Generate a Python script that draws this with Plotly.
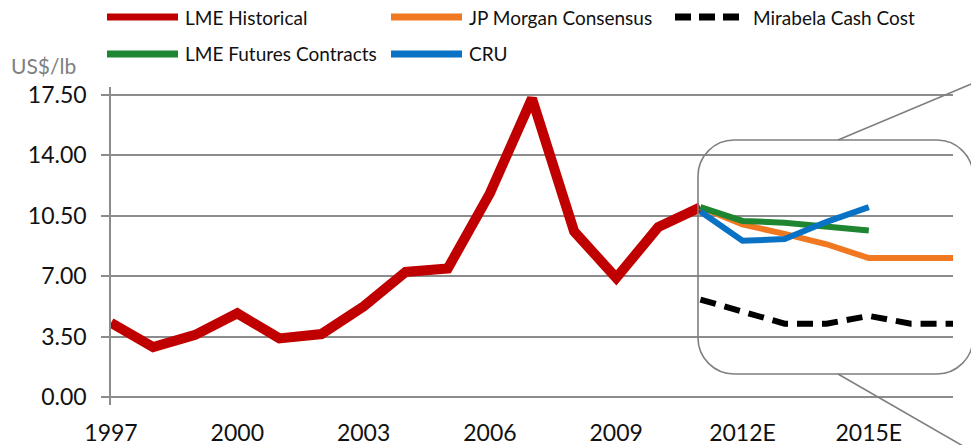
import plotly.graph_objects as go

# Nickel price history and forecasts (US$/lb)
years = ["1997", "1998", "1999", "2000", "2001", "2002", "2003", "2004", "2005",
         "2006", "2007", "2008", "2009", "2010", "2011",
         "2012E", "2013E", "2014E", "2015E", "2016E", "2017E"]

lme_historical = [4.30, 2.90, 3.60, 4.85, 3.40, 3.65, 5.25, 7.25, 7.45,
                  11.80, 17.30, 9.60, 6.90, 9.85, 11.00,
                  None, None, None, None, None, None]
jp_morgan = [None] * 14 + [11.00, 10.00, 9.45, 8.85, 8.05, 8.05, 8.05]
lme_futures = [None] * 14 + [11.00, 10.20, 10.10, 9.90, 9.65, None, None]
cru = [None] * 14 + [10.75, 9.05, 9.15, 10.15, 11.00, None, None]
cash_cost = [None] * 14 + [5.65, 4.95, 4.25, 4.25, 4.70, 4.25, 4.25]

series_names = ["LME Historical", "JP Morgan Consensus", "Mirabela Cash Cost",
                "LME Futures Contracts", "CRU"]

x_ticks = ["1997", "2000", "2003", "2006", "2009", "2012E", "2015E"]
y_ticks = [0, 3.5, 7, 10.5, 14, 17.5]

RED = "#C00000"
ORANGE = "#F07820"
GREEN = "#1E8530"
BLUE = "#0A72C4"
BLACK = "#000000"
GRID = "#8C8C8C"
FONT = "Lato"

W, H = 971, 445
L, R, T, B = 111, 18, 87, 40
PW, PH = W - L - R, H - T - B


def px(x):
    return (x - L) / PW


def py(y):
    return (H - B - y) / PH


fig = go.Figure()

fig.add_trace(go.Scatter(x=years, y=lme_historical, mode="lines",
                         line=dict(color=RED, width=10), name=series_names[0]))
fig.add_trace(go.Scatter(x=years, y=jp_morgan, mode="lines",
                         line=dict(color=ORANGE, width=6), name=series_names[1]))
fig.add_trace(go.Scatter(x=years, y=lme_futures, mode="lines",
                         line=dict(color=GREEN, width=6), name=series_names[3]))
fig.add_trace(go.Scatter(x=years, y=cru, mode="lines",
                         line=dict(color=BLUE, width=6), name=series_names[4]))
fig.add_trace(go.Scatter(x=years, y=cash_cost, mode="lines",
                         line=dict(color=BLACK, width=6, dash="16px,9px"),
                         name=series_names[2]))

shapes = []
annotations = []

# Legend drawn as line swatches plus labels, two rows
legend_items = [
    (series_names[0], RED, None, 107, 17),
    (series_names[1], ORANGE, None, 391, 17),
    (series_names[2], BLACK, "16px,8px", 675, 17),
    (series_names[3], GREEN, None, 107, 54),
    (series_names[4], BLUE, None, 391, 54),
]
for name, color, dash, x0, yc in legend_items:
    shapes.append(dict(type="line", xref="paper", yref="paper",
                       x0=px(x0), x1=px(x0 + 71), y0=py(yc), y1=py(yc),
                       line=dict(color=color, width=7, dash=dash)))
    annotations.append(dict(text=name, xref="paper", yref="paper",
                            x=px(x0 + 76), y=py(yc), xanchor="left", yanchor="middle",
                            showarrow=False, font=dict(family=FONT, size=19, color="#111111")))

# Axis unit label
annotations.append(dict(text="US$/lb", xref="paper", yref="paper",
                        x=px(9), y=py(66), xanchor="left", yanchor="middle",
                        showarrow=False, font=dict(family=FONT, size=21, color="#808080")))

# Rounded call-out box around the forecast period
bx0, by0, bx1, by1, rad = 698, 140, 973, 374, 36
k = 0.55 * rad
pts = [
    ("M", [(bx0 + rad, by0)]),
    ("L", [(bx1 - rad, by0)]),
    ("C", [(bx1 - rad + k, by0), (bx1, by0 + rad - k), (bx1, by0 + rad)]),
    ("L", [(bx1, by1 - rad)]),
    ("C", [(bx1, by1 - rad + k), (bx1 - rad + k, by1), (bx1 - rad, by1)]),
    ("L", [(bx0 + rad, by1)]),
    ("C", [(bx0 + rad - k, by1), (bx0, by1 - rad + k), (bx0, by1 - rad)]),
    ("L", [(bx0, by0 + rad)]),
    ("C", [(bx0, by0 + rad - k), (bx0 + rad - k, by0), (bx0 + rad, by0)]),
]
path = " ".join(cmd + " " + " ".join(f"{px(a):.5f},{py(b):.5f}" for a, b in p)
                for cmd, p in pts) + " Z"
shapes.append(dict(type="path", xref="paper", yref="paper", path=path,
                   line=dict(color="#7F7F7F", width=1.6), layer="above"))

# Leader lines from the call-out box
shapes.append(dict(type="line", xref="paper", yref="paper",
                   x0=px(838), y0=py(140), x1=px(975), y1=py(82.5),
                   line=dict(color="#7F7F7F", width=1.6)))
shapes.append(dict(type="line", xref="paper", yref="paper",
                   x0=px(838), y0=py(374), x1=px(963), y1=py(446),
                   line=dict(color="#7F7F7F", width=1.6)))

fig.update_layout(
    width=W, height=H,
    margin=dict(l=L, r=R, t=T, b=B, pad=0, autoexpand=False),
    paper_bgcolor="white", plot_bgcolor="white",
    showlegend=False,
    shapes=shapes, annotations=annotations,
    font=dict(family=FONT, color="#111111"),
    xaxis=dict(type="category", categoryorder="array", categoryarray=years,
               range=[0, 20], tickmode="array", tickvals=x_ticks, ticktext=x_ticks,
               showgrid=False, showline=False, zeroline=False, ticks="",
               automargin=False,
               ticklabelstandoff=12, tickfont=dict(family=FONT, size=23, color="#111111")),
    yaxis=dict(range=[-0.46, 17.96], tickmode="array", tickvals=y_ticks,
               ticktext=[f"{v:.2f}" for v in y_ticks],
               showgrid=True, gridcolor=GRID, gridwidth=1.5,
               showline=True, linecolor=GRID, linewidth=1.5,
               zeroline=False, ticks="outside", ticklen=8, tickcolor=GRID, tickwidth=1.5,
               automargin=False,
               ticklabelstandoff=10, tickfont=dict(family=FONT, size=23, color="#111111")),
)

fig.write_html("out.html")
